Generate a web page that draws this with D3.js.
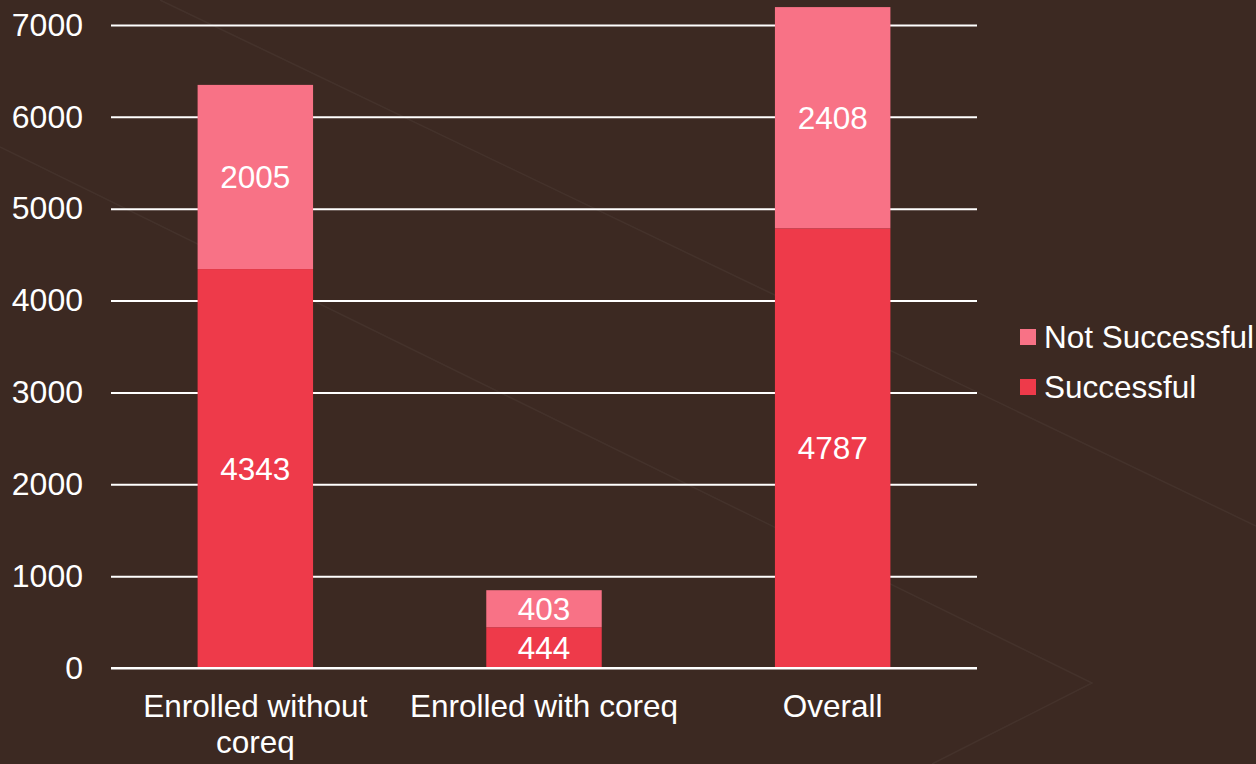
<!DOCTYPE html>
<html>
<head>
<meta charset="utf-8">
<script src="https://cdn.jsdelivr.net/npm/d3@7"></script>
<style>
  body { margin: 0; background: #3c2922; }
  svg { display: block; }
</style>
</head>
<body>
<script>
// chart data
const categories = ['Enrolled without coreq', 'Enrolled with coreq', 'Overall'];
const successful = [4343, 444, 4787];
const notSuccessful = [2005, 403, 2408];
const seriesNames = ['Not Successful', 'Successful'];
const yTicks = [0, 1000, 2000, 3000, 4000, 5000, 6000, 7000];

const colors = { 'Successful': '#ee3a4a', 'Not Successful': '#f87286' };

const W = 1256, H = 764;
const margin = { top: 25, right: 279, bottom: 96, left: 111 };
const width = W - margin.left - margin.right;
const height = H - margin.top - margin.bottom;
const fs = 31.5;

const svg = d3.select('body').append('svg')
  .attr('width', W)
  .attr('height', H)
  .style('font-family', '"Liberation Sans", Arial, sans-serif');

svg.append('rect').attr('width', W).attr('height', H).attr('fill', '#3c2922');

// faint decorative lines in the background
const deco = svg.append('g').attr('fill', 'none')
  .attr('stroke', 'rgba(255,255,255,0.045)').attr('stroke-width', 1.5);
deco.append('path').attr('d', 'M0,147 L1092,683 L932,764');
deco.append('path').attr('d', 'M160,0 L1256,526');

const g = svg.append('g').attr('transform', `translate(${margin.left},${margin.top})`);

const x = d3.scaleBand().domain(categories).range([0, width]).padding(0);
const y = d3.scaleLinear().domain([0, 7000]).range([height, 0]);

const barW = x.bandwidth() * 0.4;

// gridlines + y labels
const yAxis = g.append('g')
  .call(d3.axisLeft(y).tickValues(yTicks).tickSize(-width).tickPadding(28).tickFormat(d3.format('d')));
yAxis.select('.domain').remove();
yAxis.selectAll('.tick line').attr('stroke', '#ffffff').attr('stroke-width', 2);
yAxis.selectAll('.tick text').attr('fill', '#ffffff').attr('font-size', 32)
  .style('font-family', '"Liberation Sans", Arial, sans-serif');

const rows = categories.map((c, i) => ({ cat: c, Successful: successful[i], 'Not Successful': notSuccessful[i] }));
const stack = d3.stack().keys(['Successful', 'Not Successful'])(rows);

const layer = g.selectAll('.layer').data(stack).enter().append('g')
  .attr('fill', d => colors[d.key]);

layer.selectAll('rect').data(d => d).enter().append('rect')
  .attr('x', d => x(d.data.cat) + (x.bandwidth() - barW) / 2)
  .attr('width', barW)
  .attr('y', d => y(d[1]))
  .attr('height', d => y(d[0]) - y(d[1]));

layer.selectAll('text').data(d => d).enter().append('text')
  .attr('x', d => x(d.data.cat) + x.bandwidth() / 2)
  .attr('y', d => (y(d[0]) + y(d[1])) / 2)
  .attr('dy', '0.36em')
  .attr('text-anchor', 'middle')
  .attr('fill', '#ffffff')
  .attr('font-size', fs)
  .text(d => d[1] - d[0]);

// zero line on top
g.append('line').attr('x1', 0).attr('x2', width).attr('y1', y(0)).attr('y2', y(0))
  .attr('stroke', '#ffffff').attr('stroke-width', 2);

// category labels, wrapped
const xl = g.append('g').attr('transform', `translate(0,${height})`);
categories.forEach(c => {
  const lines = c === 'Enrolled without coreq' ? ['Enrolled without', 'coreq'] : [c];
  const t = xl.append('text')
    .attr('x', x(c) + x.bandwidth() / 2)
    .attr('y', 49)
    .attr('text-anchor', 'middle')
    .attr('fill', '#ffffff')
    .attr('font-size', fs);
  lines.forEach((l, i) => {
    t.append('tspan').attr('x', x(c) + x.bandwidth() / 2).attr('dy', i === 0 ? 0 : 36).text(l);
  });
});

// legend
const legend = svg.append('g').attr('transform', 'translate(1020,337)');
seriesNames.forEach((s, i) => {
  const row = legend.append('g').attr('transform', `translate(0,${i * 50})`);
  row.append('rect').attr('x', 0).attr('y', -8).attr('width', 16).attr('height', 16)
    .attr('fill', colors[s]);
  row.append('text').attr('x', 24).attr('y', 0).attr('dy', '0.36em')
    .attr('fill', '#ffffff').attr('font-size', fs).text(s);
});
</script>
</body>
</html>
